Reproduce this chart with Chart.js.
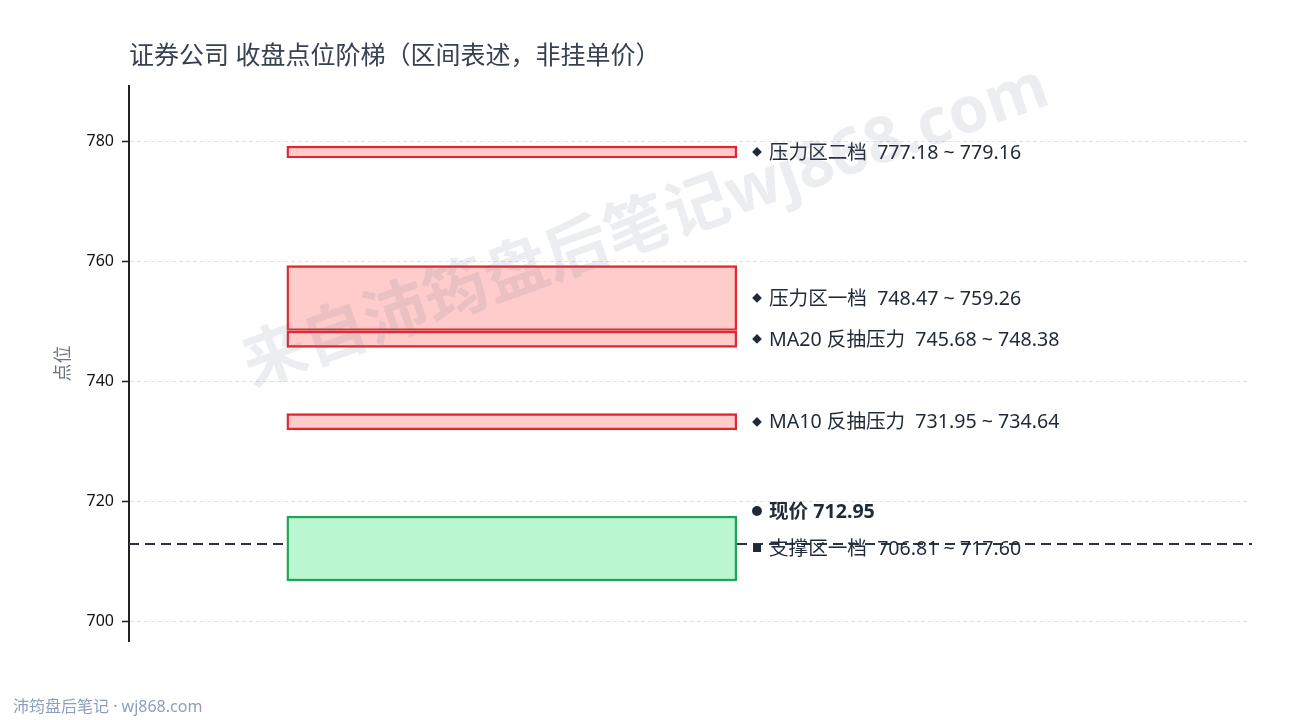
<!DOCTYPE html>
<html>
<head>
<meta charset="utf-8">
<script src="https://cdn.jsdelivr.net/npm/chart.js@4/dist/chart.umd.min.js"></script>
<style>
  html, body { margin: 0; padding: 0; background: #fff; }
  #wrap { width: 1290px; height: 720px; }
</style>
</head>
<body>
<div id="wrap"><canvas id="ladder"></canvas></div>
<script>
// --- data ---
const zoneNames = ['压力区二档', '压力区一档', 'MA20 反抽压力', 'MA10 反抽压力', '支撑区一档'];
const zoneLow   = [777.18, 748.47, 745.68, 731.95, 706.81];
const zoneHigh  = [779.16, 759.26, 748.38, 734.64, 717.60];
const zoneKind  = ['press', 'press', 'press', 'press', 'support'];
const currentPrice = 712.95;
const yTickValues = [700, 720, 740, 760, 780];

const TITLE = '证券公司 收盘点位阶梯（区间表述，非挂单价）';
const FOOTER = '沛筠盘后笔记 · wj868.com';
const WATERMARK = '来自沛筠盘后笔记wj868.com';

const FONT = '"Noto Sans", "Noto Sans CJK SC", sans-serif';
const BAR_X = 0.3415;

const fillFor = { press: 'rgba(255,204,204,1)', support: 'rgba(187,247,208,1)' };
const lineFor = { press: '#e0282e', support: '#1fa653' };

const yMin = Math.min(...zoneLow) - 10;
const yMax = Math.max(...zoneHigh) + 10;

// --- overlay drawing: title, labels, current price line, watermark ---
const overlay = {
  id: 'overlay',
  beforeDatasetsDraw(chart) {
    const { ctx, chartArea, scales: { y } } = chart;
    const py = y.getPixelForValue(currentPrice);
    ctx.save();
    ctx.strokeStyle = '#2d3446';
    ctx.lineWidth = 2;
    ctx.setLineDash([10, 6]);
    ctx.beginPath();
    ctx.moveTo(chartArea.left, py);
    ctx.lineTo(chartArea.right + 2, py);
    ctx.stroke();
    ctx.restore();
  },
  afterDatasetsDraw(chart) {
    const { ctx, chartArea, scales: { y } } = chart;
    ctx.save();
    ctx.textBaseline = 'middle';
    ctx.textAlign = 'left';
    const tx = 769, mx = 757;
    zoneNames.forEach((name, i) => {
      const py = y.getPixelForValue((zoneLow[i] + zoneHigh[i]) / 2) + 1;
      ctx.fillStyle = '#1f2937';
      ctx.font = '10px ' + FONT;
      ctx.textAlign = 'center';
      ctx.fillText(zoneKind[i] === 'support' ? '■' : '◆', mx, py);
      ctx.textAlign = 'left';
      ctx.font = '19.6px ' + FONT;
      ctx.fillText(name + '  ' + zoneLow[i].toFixed(2) + ' ~ ' + zoneHigh[i].toFixed(2), tx, py);
    });
    const cy = y.getPixelForValue(currentPrice) - 32;
    ctx.font = '11px ' + FONT;
    ctx.textAlign = 'center';
    ctx.fillText('●', mx, cy);
    ctx.textAlign = 'left';
    ctx.font = 'bold 19.6px ' + FONT;
    ctx.fillText('现价 ' + currentPrice.toFixed(2), tx, cy);

    // title
    ctx.fillStyle = '#374151';
    ctx.font = '25px ' + FONT;
    ctx.fillText(TITLE, chartArea.left, 57);
    // footer
    ctx.fillStyle = '#8e9fbd';
    ctx.font = '16px ' + FONT;
    ctx.fillText(FOOTER, 13, 707);
    ctx.restore();
  },
  afterDraw(chart) {
    const { ctx } = chart;
    ctx.save();
    ctx.translate(646, 228);
    ctx.rotate(-19.5 * Math.PI / 180);
    ctx.fillStyle = 'rgba(100,116,139,0.13)';
    ctx.font = 'bold 64px ' + FONT;
    ctx.textAlign = 'center';
    ctx.textBaseline = 'middle';
    ctx.fillText(WATERMARK, 0, 0);
    ctx.restore();
  }
};

new Chart(document.getElementById('ladder'), {
  type: 'bar',
  data: {
    datasets: [{
      data: zoneNames.map((_, i) => ({ x: BAR_X, y: [zoneLow[i], zoneHigh[i]] })),
      backgroundColor: zoneKind.map(k => fillFor[k]),
      borderColor: zoneKind.map(k => lineFor[k]),
      borderWidth: 2.4,
      borderSkipped: false,
      barThickness: 450
    }]
  },
  options: {
    responsive: true,
    maintainAspectRatio: false,
    animation: false,
    layout: { padding: { left: 0, right: 40, top: 86, bottom: 79 } },
    plugins: {
      legend: { display: false },
      tooltip: { enabled: false },
      title: { display: false }
    },
    scales: {
      x: { type: 'linear', min: 0, max: 1, offset: false, display: false },
      y: {
        min: yMin,
        max: yMax,
        afterBuildTicks: s => { s.ticks = yTickValues.map(v => ({ value: v })); },
        afterFit: s => { s.width = 129; },
        ticks: { color: '#111', font: { family: FONT, size: 16 }, padding: 8 },
        grid: { color: '#e3e3e3', lineWidth: 1, tickColor: '#222', tickLength: 7, tickWidth: 1.5 },
        border: { display: true, color: '#222', width: 2, dash: [4, 3] },
        title: {
          display: true,
          text: '点位',
          color: '#6b7280',
          font: { family: FONT, size: 18 },
          padding: { top: 53, bottom: 0 }
        }
      }
    }
  },
  plugins: [overlay]
});
</script>
</body>
</html>
